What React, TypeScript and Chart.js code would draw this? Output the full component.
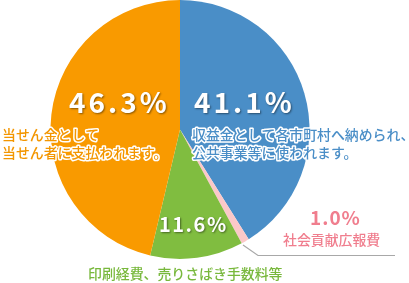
import React, { useEffect, useRef } from "react";
import { Chart, registerables } from "chart.js";

Chart.register(...registerables);

const categories = ["収益金", "社会貢献広報費", "印刷経費等", "当せん金"];
const shares = [41.1, 1.0, 11.6, 46.3];
const sliceColors = ["#4a8ec7", "#fbc8c8", "#80bd40", "#f99a00"];
const percentLabels = ["41.1%", "1.0%", "11.6%", "46.3%"];
const descLabels = [
  ["収益金として各市町村へ納められ、", "公共事業等に使われます。"],
  ["社会貢献広報費"],
  ["印刷経費、売りさばき手数料等"],
  ["当せん金として", "当せん者に支払われます。"],
];
const textColors = ["#4a8ec7", "#f07e8e", "#78b83c", "#f39600"];

const JP = "'Noto Sans CJK JP', 'Noto Sans', sans-serif";

const labelPlugin = {
  id: "labels",
  afterDraw(chart: any) {
    const ctx = chart.ctx as CanvasRenderingContext2D;
    ctx.save();
    // leader line for small slice
    ctx.strokeStyle = "#a8a8a8";
    ctx.lineWidth = 1.2;
    ctx.beginPath();
    ctx.moveTo(243, 245);
    ctx.lineTo(258, 255.5);
    ctx.lineTo(395, 255.5);
    ctx.stroke();

    const big = (text: string, x: number, y: number, size: number, spacing: string) => {
      ctx.save();
      ctx.font = `bold ${size}px ${JP}`;
      (ctx as any).letterSpacing = spacing;
      ctx.textAlign = "left";
      ctx.textBaseline = "alphabetic";
      ctx.shadowColor = "rgba(0,0,0,0.45)";
      ctx.shadowOffsetX = 1;
      ctx.shadowOffsetY = 1;
      ctx.shadowBlur = 2;
      ctx.fillStyle = "#ffffff";
      ctx.fillText(text, x, y);
      ctx.restore();
    };
    const outlined = (text: string, x: number, y: number, color: string, outline: boolean) => {
      ctx.save();
      ctx.font = `500 13.9px ${JP}`;
      ctx.textAlign = "left";
      ctx.textBaseline = "alphabetic";
      if (outline) {
        ctx.strokeStyle = "#ffffff";
        ctx.lineWidth = 3;
        ctx.lineJoin = "round";
        ctx.strokeText(text, x, y);
      }
      ctx.fillStyle = color;
      ctx.fillText(text, x, y);
      ctx.restore();
    };

    big(percentLabels[3], 69, 113, 28, "3px");
    big(percentLabels[0], 194, 113, 28, "3px");
    big(percentLabels[2], 159, 232, 20, "1.5px");

    ctx.save();
    ctx.font = `bold 19px ${JP}`;
    (ctx as any).letterSpacing = "1px";
    ctx.fillStyle = textColors[1];
    ctx.fillText(percentLabels[1], 310, 225);
    ctx.restore();

    outlined(descLabels[3][0], 2, 140, textColors[3], true);
    outlined(descLabels[3][1], 2, 158, textColors[3], true);
    outlined(descLabels[0][0], 192, 140, textColors[0], true);
    outlined(descLabels[0][1], 192, 158, textColors[0], true);
    outlined(descLabels[1][0], 283, 245, textColors[1], false);
    outlined(descLabels[2][0], 88, 279, textColors[2], false);
    ctx.restore();
  },
};

export default function App() {
  const ref = useRef<HTMLCanvasElement>(null);
  useEffect(() => {
    document.body.style.margin = "0";
    const chart = new Chart(ref.current!, {
      type: "pie",
      data: {
        labels: categories,
        datasets: [
          {
            data: shares,
            backgroundColor: sliceColors,
            borderWidth: 0,
          },
        ],
      },
      options: {
        animation: false,
        responsive: false,
        maintainAspectRatio: false,
        layout: { padding: { left: 50, right: 99, top: 0, bottom: 24 } },
        plugins: { legend: { display: false }, tooltip: { enabled: false } },
      },
      plugins: [labelPlugin],
    });
    return () => chart.destroy();
  }, []);
  return (
    <div style={{ position: "fixed", left: 0, top: 0, width: 409, height: 283, background: "#fff" }}>
      <canvas ref={ref} width={409} height={283} style={{ width: 409, height: 283 }} />
    </div>
  );
}
